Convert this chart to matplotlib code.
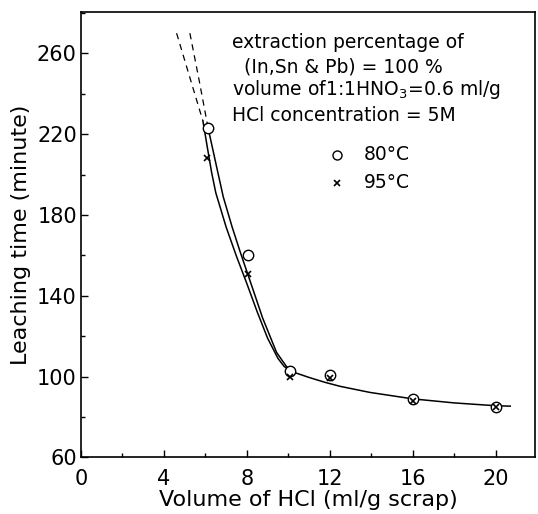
import numpy as np
import matplotlib.pyplot as plt
from matplotlib.ticker import MultipleLocator

# measured points
x_80 = [6.13, 8.06, 10.07, 12.0, 16.0, 20.0]
y_80 = [223, 160, 103, 100.7, 89, 85]
x_95 = [6.1, 8.03, 10.07, 12.0, 16.0, 20.0]
y_95 = [208, 151, 100, 99.5, 88, 85]

# fitted curves
cx_80 = [6.13, 6.59, 6.86, 7.29, 7.7, 8.1, 8.76, 9.43, 9.91, 10.12, 10.31, 11.0, 11.76, 12.5, 13.93, 16.0, 18.0, 20.0, 20.7]
cy_80 = [223, 201.5, 189, 174, 161, 149, 129, 112, 105, 103, 102, 99.6, 97.2, 95.2, 92.2, 89, 87, 85.6, 85.4]
cx_95 = [5.88, 6.1, 6.3, 6.5, 7.0, 7.5, 8.0, 8.5, 9.0, 9.5, 9.8, 10.12]
cy_95 = [226.5, 213, 201, 191, 174, 159.5, 146, 132, 119, 109, 105, 103]

# dashed extrapolation
dx_80 = [5.25, 5.7, 6.13]
dy_80 = [270, 246.5, 223]
dx_95 = [4.61, 5.25, 5.88]
dy_95 = [270, 248, 226.5]

fig = plt.figure(figsize=(5.38, 5.14), dpi=100)
ax = fig.add_axes([0.1506, 0.11, 0.844, 0.8667])

ax.plot(cx_80, cy_80, color='black', lw=1.1)
ax.plot(cx_95, cy_95, color='black', lw=1.1)
ax.plot(dx_80, dy_80, color='black', lw=0.9, ls=(0, (5, 4)))
ax.plot(dx_95, dy_95, color='black', lw=0.9, ls=(0, (5, 4)))

ax.plot(x_80, y_80, 'o', mfc='white', mec='black', ms=7.5, mew=1.0)
ax.plot(x_95, y_95, 'x', color='black', ms=5, mew=1.2)

ax.set_xlim(0, 21.9)
ax.set_ylim(60, 280.5)
ax.xaxis.set_major_locator(MultipleLocator(4))
ax.xaxis.set_minor_locator(MultipleLocator(2))
ax.set_yticks([60, 100, 140, 180, 220, 260])
ax.set_yticks([80, 120, 160, 200, 240, 280], minor=True)
ax.tick_params(which='both', direction='in', labelsize=15)
ax.tick_params(which='major', length=5, width=1)
ax.tick_params(which='minor', length=3, width=1)
ax.tick_params(axis='x', pad=8)
ax.tick_params(axis='y', pad=3)
for s in ax.spines.values():
    s.set_linewidth(1.2)

ax.set_xlabel('Volume of HCl (ml/g scrap)', fontsize=16, labelpad=1)
ax.set_ylabel('Leaching time (minute)', fontsize=16, labelpad=4)

# annotation block
tx = 7.28
ax.text(tx, 265.6, 'extraction percentage of', fontsize=13.5, va='center')
ax.text(tx, 253.2, '  (In,Sn & Pb) = 100 %', fontsize=13.5, va='center')
ax.text(tx, 241.9, 'volume of1:1HNO$_3$=0.6 ml/g', fontsize=13.5, va='center')
ax.text(tx, 229.5, 'HCl concentration = 5M', fontsize=13.5, va='center')

# legend
ax.plot([12.34], [209.8], 'o', mfc='white', mec='black', ms=6.5, mew=1.0)
ax.plot([12.34], [196.0], 'x', color='black', ms=5, mew=1.2)
ax.text(13.64, 209.8, '80°C', fontsize=13.5, va='center')
ax.text(13.64, 196.0, '95°C', fontsize=13.5, va='center')

plt.savefig('out.png', dpi=100)
